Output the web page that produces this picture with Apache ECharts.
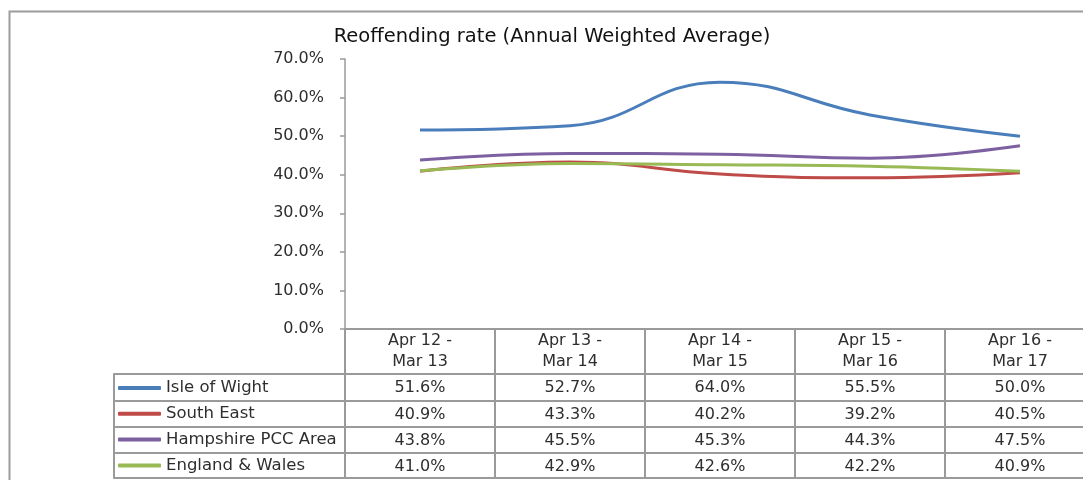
<!DOCTYPE html>
<html>
<head>
<meta charset="utf-8">
<script src="https://cdn.jsdelivr.net/npm/echarts@6/dist/echarts.min.js"></script>
</head>
<body style="margin:0">
<div id="main" style="width:1083px;height:480px;"></div>
<script type="text/javascript">
    // data
    var periods = [['Apr 12', 'Mar 13'], ['Apr 13', 'Mar 14'], ['Apr 14', 'Mar 15'], ['Apr 15', 'Mar 16'], ['Apr 16', 'Mar 17']];
    var seriesNames = ['Isle of Wight', 'South East', 'Hampshire PCC Area', 'England & Wales'];
    var isleOfWight = [51.6, 52.7, 64.0, 55.5, 50.0];
    var southEast = [40.9, 43.3, 40.2, 39.2, 40.5];
    var hampshire = [43.8, 45.5, 45.3, 44.3, 47.5];
    var englandWales = [41.0, 42.9, 42.6, 42.2, 40.9];
    var yTicks = [0, 10, 20, 30, 40, 50, 60, 70];

    var rows = [isleOfWight, southEast, hampshire, englandWales];
    var colors = ['#4a7ebb', '#be4b48', '#7d60a0', '#98b954'];
    var categories = periods.map(function (p) { return p[0] + ' -\n' + p[1]; });

    var font = 'DejaVu Sans';
    var gridColor = '#9a9a9a';
    var textColor = '#2e2e2e';

    var myChart = echarts.init(document.getElementById('main'));

    // table row lines: offsets below the main x axis, and tick length down to next line
    var rowOffsets = [45, 72, 98, 123.5];
    var rowHeights = [27, 26, 25.5, 25.5];
    var bottomOffset = 149;

    var xAxes = [{
        type: 'category',
        gridIndex: 0,
        data: categories,
        boundaryGap: true,
        axisLine: {onZero: false, lineStyle: {color: gridColor, width: 2}},
        axisTick: {show: true, length: 45, lineStyle: {color: gridColor, width: 2}},
        axisLabel: {margin: 1.5, lineHeight: 21, fontSize: 16, color: textColor, fontFamily: font}
    }];
    rows.forEach(function (vals, r) {
        xAxes.push({
            type: 'category',
            gridIndex: 0,
            position: 'bottom',
            offset: rowOffsets[r],
            data: categories,
            boundaryGap: true,
            axisLine: {onZero: false, lineStyle: {color: gridColor, width: 2}},
            axisTick: {show: true, length: rowHeights[r], lineStyle: {color: gridColor, width: 2}},
            axisLabel: {
                margin: 5, lineHeight: 18, fontSize: 16, color: textColor, fontFamily: font,
                formatter: function (v, i) { return vals[i].toFixed(1) + '%'; }
            }
        });
        // legend column of the table
        xAxes.push({
            type: 'category',
            gridIndex: 1,
            position: 'bottom',
            offset: rowOffsets[r],
            data: [''],
            boundaryGap: true,
            axisLine: {onZero: false, lineStyle: {color: gridColor, width: 2}},
            axisTick: {show: true, length: rowHeights[r], lineStyle: {color: gridColor, width: 2}},
            axisLabel: {show: false}
        });
    });
    [0, 1].forEach(function (g) {
        xAxes.push({
            type: 'category',
            gridIndex: g,
            position: 'bottom',
            offset: bottomOffset,
            data: g === 0 ? categories : [''],
            axisLine: {onZero: false, lineStyle: {color: gridColor, width: 2}},
            axisTick: {show: false},
            axisLabel: {show: false}
        });
    });

    var option = {
        animation: false,
        color: colors,
        title: {
            text: 'Reoffending rate (Annual Weighted Average)',
            left: 547,
            textAlign: 'center',
            top: 22,
            textStyle: {fontFamily: font, fontSize: 19.5, fontWeight: 'normal', color: '#111'}
        },
        legend: {
            orient: 'vertical',
            left: 118,
            top: 378,
            padding: 0,
            itemGap: 5.8,
            itemWidth: 43,
            itemHeight: 4,
            icon: 'roundRect',
            data: seriesNames,
            textStyle: {fontFamily: font, fontSize: 16.5, lineHeight: 20, color: textColor}
        },
        graphic: [{
            type: 'rect',
            left: 7,
            top: 9,
            shape: {width: 1100, height: 500},
            style: {fill: null, stroke: '#9c9c9c', lineWidth: 2}
        }],
        grid: [
            {left: 345, top: 59, width: 750, height: 270, outerBoundsMode: 'none'},
            {left: 114, top: 59, width: 231, height: 270, outerBoundsMode: 'none'}
        ],
        xAxis: xAxes,
        yAxis: [{
            type: 'value',
            gridIndex: 0,
            min: yTicks[0],
            max: yTicks[yTicks.length - 1],
            interval: 10,
            axisLine: {show: true, lineStyle: {color: gridColor, width: 1.5}},
            axisTick: {show: true, length: 5, lineStyle: {color: gridColor, width: 1.5}},
            splitLine: {show: false},
            axisLabel: {
                margin: 21, fontSize: 16, color: textColor, fontFamily: font,
                formatter: function (v) { return v.toFixed(1) + '%'; }
            }
        }, {
            type: 'value',
            gridIndex: 1,
            min: 0,
            max: 1,
            show: false
        }],
        series: rows.map(function (vals, r) {
            return {
                name: seriesNames[r],
                type: 'line',
                xAxisIndex: 0,
                yAxisIndex: 0,
                data: vals,
                smooth: 0.45,
                showSymbol: false,
                symbol: 'none',
                lineStyle: {width: 3}
            };
        })
    };
    myChart.setOption(option);
</script>
</body>
</html>
